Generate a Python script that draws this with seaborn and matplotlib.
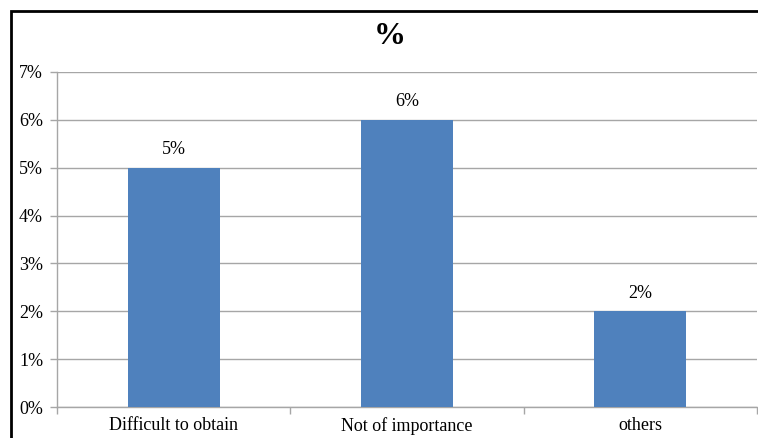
import matplotlib
matplotlib.use("Agg")
import matplotlib.pyplot as plt
import matplotlib.patches as mpatches
from matplotlib.ticker import FuncFormatter, FixedLocator
import seaborn as sns
import pandas as pd

categories = ["Difficult to obtain", "Not of importance", "others"]
values = [5, 6, 2]
title = "%"

sns.set_theme(style="white")
plt.rcParams['font.family'] = ['Liberation Serif', 'DejaVu Serif']
plt.rcParams['text.color'] = 'black'

df = pd.DataFrame({"cat": categories, "val": values})

fig = plt.figure(figsize=(7.58, 4.38), dpi=100)
ax = fig.add_axes([57/758, 1-407/438, 700/758, (407-72)/438])

sns.barplot(data=df, x="cat", y="val", color="#4F81BD", saturation=1, width=0.395,
            ax=ax, zorder=3, linewidth=0)

ax.set_ylim(0, 7)
ax.set_xlim(-0.5, 2.5)
ax.set_yticks(range(0, 8))
ax.yaxis.set_major_formatter(FuncFormatter(lambda v, p: f"{int(v)}%"))
ax.grid(axis="y", color="#A6A6A6", linewidth=1, zorder=0)
ax.set_axisbelow(True)
ax.set_xlabel("")
ax.set_ylabel("")

for s in ["top", "right"]:
    ax.spines[s].set_visible(False)
for s in ["left", "bottom"]:
    ax.spines[s].set_color("#A6A6A6")
    ax.spines[s].set_linewidth(1)

fs = 13
ax.tick_params(axis="x", which="major", length=0, labelsize=fs, pad=7, colors="black")
ax.xaxis.set_minor_locator(FixedLocator([-0.5, 0.5, 1.5, 2.5]))
ax.tick_params(axis="x", which="minor", length=5, color="#A6A6A6", width=1, direction="out", bottom=True)
ax.tick_params(axis="y", length=5, color="#A6A6A6", width=1, direction="out", labelsize=fs, pad=5, left=True, colors="black")
for lab in ax.get_yticklabels():
    lab.set_color("black")

for i, v in enumerate(values):
    ax.annotate(f"{v}%", xy=(i, v), xytext=(0, 7), textcoords="offset points",
                ha="center", va="bottom", fontsize=fs, color="black")

fig.text(390/758, 1-36/438, title, ha="center", va="center", fontsize=23,
         fontweight="bold", color="black")

# outer chart border (partially cropped in reference)
fig.patches.append(mpatches.Rectangle((11/758, -0.1), 1.2, (1-11/438) + 0.1,
                                      transform=fig.transFigure, fill=False,
                                      edgecolor="black", linewidth=2, zorder=10))

fig.savefig("out.png", dpi=100)
